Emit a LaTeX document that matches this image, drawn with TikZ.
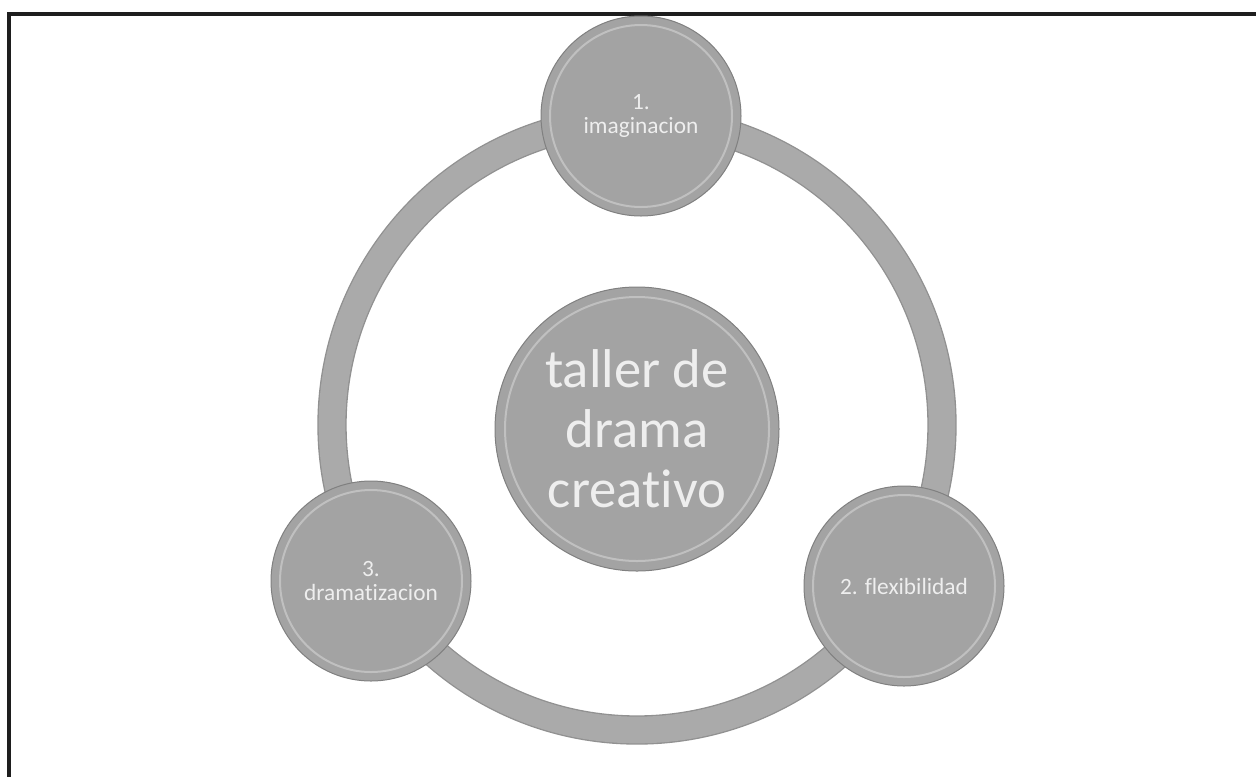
\documentclass[tikz,border=0pt]{standalone}
\usepackage{fontspec}
\setmainfont{Carlito}[Ligatures={NoCommon,NoDiscretionary}]

\tikzset{every picture/.style={line width=0.75pt}}
\tikzset{
  bubble/.style={circle, draw={rgb, 255:red, 128; green, 128; blue, 128}, fill={rgb, 255:red, 163; green, 163; blue, 163}, text={rgb, 255:red, 238; green, 238; blue, 238}, minimum size=150pt, inner sep=0pt, align=center, font=\fontsize{17.5}{17.5}\selectfont},
  hub/.style={bubble, minimum size=213pt, font=\fontsize{41}{45}\selectfont},
  rim/.style={draw={rgb, 255:red, 192; green, 192; blue, 192}, line width=1.5pt},
}

\begin{document}
\begin{tikzpicture}[x=0.75pt,y=0.75pt,yscale=-1,xscale=1]
\useasboundingbox (0,0) rectangle (1256,776);

%Straight Lines [frame]
\draw [line width=2.4pt, color={rgb, 255:red, 30; green, 30; blue, 30}] (9,780) -- (9,14) -- (1260,14) ;

%Shape: Circle [ring]
\draw [line width=22pt, color={rgb, 255:red, 145; green, 145; blue, 145}] (637,425) circle (305) ;
\draw [line width=20pt, color={rgb, 255:red, 170; green, 170; blue, 170}] (637,425) circle (305) ;

% Hub
\node [hub] (hub) at (637,429) {taller de\\drama\\creativo};
\draw [rim] (hub.center) circle (132) ;

% Text Node
\node [bubble] (imag) at (641,116) {1.\\imaginacion};
\draw [rim] (imag.center) circle (91) ;
% Text Node
\node [bubble] (flex) at (904,586) {2. flexibilidad};
\draw [rim] (flex.center) circle (91) ;
% Text Node
\node [bubble] (drama) at (371,581) {3.\\dramatizacion};
\draw [rim] (drama.center) circle (91) ;

\end{tikzpicture}
\end{document}
